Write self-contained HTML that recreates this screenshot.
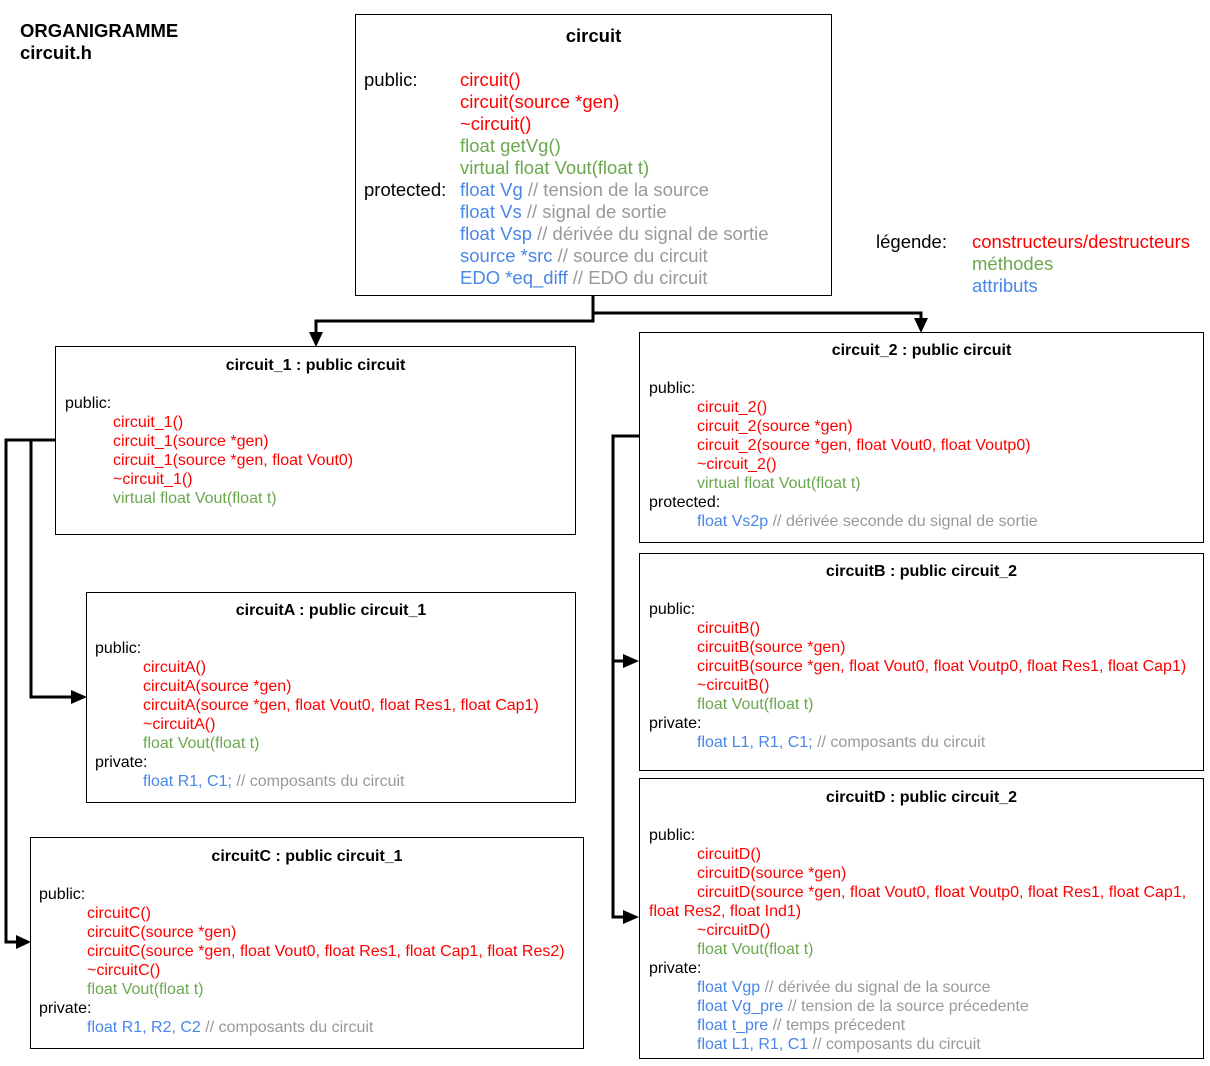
<!DOCTYPE html>
<html><head><meta charset="utf-8"><style>
body{margin:0;background:#fff;width:1210px;height:1066px;position:relative;overflow:hidden;font-family:"Liberation Sans",Arial,sans-serif;}
.b{position:absolute;border:1px solid #000;box-sizing:border-box;background:#fff;}
.t{position:absolute;white-space:nowrap;font-size:16px;line-height:18px;color:#000;}
.L{font-size:18.5px;line-height:20px;}
.h{font-weight:bold;}
.r{color:#ff0000}.g{color:#6aa84f}.u{color:#4a86e8}.y{color:#999999}
svg{position:absolute;left:0;top:0;}
</style></head><body>
<svg width="1210" height="1066">
<g stroke="#000" stroke-width="3" fill="none">
<polyline points="593,295 593,321 316,321 316,336"/>
<polyline points="593,313 921,313 921,322"/>
<polyline points="55,440 6,440 6,942 20,942"/>
<polyline points="31,440 31,697 76,697"/>
<polyline points="639,436 613,436 613,917 628,917"/>
<line x1="613" y1="661" x2="628" y2="661"/>
</g>
<g fill="#000">
<polygon points="309,332 323,332 316,347"/>
<polygon points="914,318 928,318 921,333"/>
<polygon points="16,935 16,949 31,942"/>
<polygon points="71,690 71,704 87,697"/>
<polygon points="623,654 623,668 639,661"/>
<polygon points="623,910 623,924 639,917"/>
</g>
</svg>
<div class="t L h" style="left:20px;top:21px">ORGANIGRAMME</div>
<div class="t L h" style="left:20px;top:43px">circuit.h</div>

<div class="b" style="left:355px;top:14px;width:477px;height:282px"></div>
<div class="t L h" style="left:355px;width:477px;text-align:center;top:26px">circuit</div>
<div class="t L" style="left:364px;top:70px">public:</div>
<div class="t L r" style="left:460px;top:70px">circuit()</div>
<div class="t L r" style="left:460px;top:92px">circuit(source *gen)</div>
<div class="t L r" style="left:460px;top:114px">~circuit()</div>
<div class="t L g" style="left:460px;top:136px">float getVg()</div>
<div class="t L g" style="left:460px;top:158px">virtual float Vout(float t)</div>
<div class="t L" style="left:364px;top:180px">protected:</div>
<div class="t L" style="left:460px;top:180px"><span class="u">float Vg</span> <span class="y">// tension de la source</span></div>
<div class="t L" style="left:460px;top:202px"><span class="u">float Vs</span> <span class="y">// signal de sortie</span></div>
<div class="t L" style="left:460px;top:224px"><span class="u">float Vsp</span> <span class="y">// dérivée du signal de sortie</span></div>
<div class="t L" style="left:460px;top:246px"><span class="u">source *src</span> <span class="y">// source du circuit</span></div>
<div class="t L" style="left:460px;top:268px"><span class="u">EDO *eq_diff</span> <span class="y">// EDO du circuit</span></div>

<div class="t L" style="left:876px;top:232px">légende:</div>
<div class="t L r" style="left:972px;top:232px">constructeurs/destructeurs</div>
<div class="t L g" style="left:972px;top:254px">méthodes</div>
<div class="t L u" style="left:972px;top:276px">attributs</div>

<div class="b" style="left:55px;top:346px;width:521px;height:189px"></div>
<div class="t h" style="left:55px;width:521px;text-align:center;top:357px">circuit_1 : public circuit</div>
<div class="t" style="left:65px;top:395px">public:</div>
<div class="t r" style="left:113px;top:414px">circuit_1()</div>
<div class="t r" style="left:113px;top:433px">circuit_1(source *gen)</div>
<div class="t r" style="left:113px;top:452px">circuit_1(source *gen, float Vout0)</div>
<div class="t r" style="left:113px;top:471px">~circuit_1()</div>
<div class="t g" style="left:113px;top:490px">virtual float Vout(float t)</div>

<div class="b" style="left:86px;top:592px;width:490px;height:211px"></div>
<div class="t h" style="left:86px;width:490px;text-align:center;top:602px">circuitA : public circuit_1</div>
<div class="t" style="left:95px;top:640px">public:</div>
<div class="t r" style="left:143px;top:659px">circuitA()</div>
<div class="t r" style="left:143px;top:678px">circuitA(source *gen)</div>
<div class="t r" style="left:143px;top:697px">circuitA(source *gen, float Vout0, float Res1, float Cap1)</div>
<div class="t r" style="left:143px;top:716px">~circuitA()</div>
<div class="t g" style="left:143px;top:735px">float Vout(float t)</div>
<div class="t" style="left:95px;top:754px">private:</div>
<div class="t" style="left:143px;top:773px"><span class="u">float R1, C1;</span> <span class="y">// composants du circuit</span></div>

<div class="b" style="left:30px;top:837px;width:554px;height:212px"></div>
<div class="t h" style="left:30px;width:554px;text-align:center;top:848px">circuitC : public circuit_1</div>
<div class="t" style="left:39px;top:886px">public:</div>
<div class="t r" style="left:87px;top:905px">circuitC()</div>
<div class="t r" style="left:87px;top:924px">circuitC(source *gen)</div>
<div class="t r" style="left:87px;top:943px">circuitC(source *gen, float Vout0, float Res1, float Cap1, float Res2)</div>
<div class="t r" style="left:87px;top:962px">~circuitC()</div>
<div class="t g" style="left:87px;top:981px">float Vout(float t)</div>
<div class="t" style="left:39px;top:1000px">private:</div>
<div class="t" style="left:87px;top:1019px"><span class="u">float R1, R2, C2</span> <span class="y">// composants du circuit</span></div>

<div class="b" style="left:639px;top:332px;width:565px;height:211px"></div>
<div class="t h" style="left:639px;width:565px;text-align:center;top:342px">circuit_2 : public circuit</div>
<div class="t" style="left:649px;top:380px">public:</div>
<div class="t r" style="left:697px;top:399px">circuit_2()</div>
<div class="t r" style="left:697px;top:418px">circuit_2(source *gen)</div>
<div class="t r" style="left:697px;top:437px">circuit_2(source *gen, float Vout0, float Voutp0)</div>
<div class="t r" style="left:697px;top:456px">~circuit_2()</div>
<div class="t g" style="left:697px;top:475px">virtual float Vout(float t)</div>
<div class="t" style="left:649px;top:494px">protected:</div>
<div class="t" style="left:697px;top:513px"><span class="u">float Vs2p</span> <span class="y">// dérivée seconde du signal de sortie</span></div>

<div class="b" style="left:639px;top:553px;width:565px;height:218px"></div>
<div class="t h" style="left:639px;width:565px;text-align:center;top:563px">circuitB : public circuit_2</div>
<div class="t" style="left:649px;top:601px">public:</div>
<div class="t r" style="left:697px;top:620px">circuitB()</div>
<div class="t r" style="left:697px;top:639px">circuitB(source *gen)</div>
<div class="t r" style="left:697px;top:658px">circuitB(source *gen, float Vout0, float Voutp0, float Res1, float Cap1)</div>
<div class="t r" style="left:697px;top:677px">~circuitB()</div>
<div class="t g" style="left:697px;top:696px">float Vout(float t)</div>
<div class="t" style="left:649px;top:715px">private:</div>
<div class="t" style="left:697px;top:734px"><span class="u">float L1, R1, C1;</span> <span class="y">// composants du circuit</span></div>

<div class="b" style="left:639px;top:778px;width:565px;height:281px"></div>
<div class="t h" style="left:639px;width:565px;text-align:center;top:789px">circuitD : public circuit_2</div>
<div class="t" style="left:649px;top:827px">public:</div>
<div class="t r" style="left:697px;top:846px">circuitD()</div>
<div class="t r" style="left:697px;top:865px">circuitD(source *gen)</div>
<div class="t r" style="left:697px;top:884px">circuitD(source *gen, float Vout0, float Voutp0, float Res1, float Cap1,</div>
<div class="t r" style="left:649px;top:903px">float Res2, float Ind1)</div>
<div class="t r" style="left:697px;top:922px">~circuitD()</div>
<div class="t g" style="left:697px;top:941px">float Vout(float t)</div>
<div class="t" style="left:649px;top:960px">private:</div>
<div class="t" style="left:697px;top:979px"><span class="u">float Vgp</span> <span class="y">// dérivée du signal de la source</span></div>
<div class="t" style="left:697px;top:998px"><span class="u">float Vg_pre</span> <span class="y">// tension de la source précedente</span></div>
<div class="t" style="left:697px;top:1017px"><span class="u">float t_pre</span> <span class="y">// temps précedent</span></div>
<div class="t" style="left:697px;top:1036px"><span class="u">float L1, R1, C1</span> <span class="y">// composants du circuit</span></div>
</body></html>
